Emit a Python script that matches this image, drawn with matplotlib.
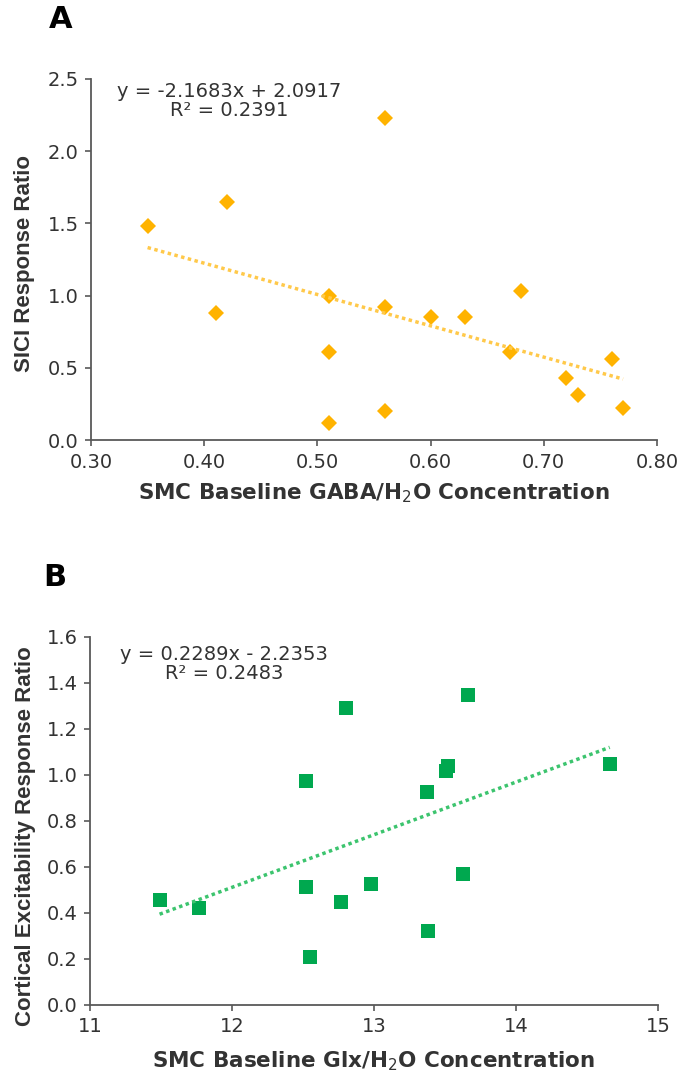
import matplotlib
matplotlib.use('Agg')
import matplotlib.pyplot as plt
import numpy as np

plt.rcParams['font.family'] = ['DejaVu Sans']

# Panel A: GABA vs SICI
gaba_x = [0.35, 0.41, 0.42, 0.51, 0.51, 0.51, 0.56, 0.56, 0.56, 0.60, 0.63, 0.67, 0.68, 0.72, 0.73, 0.76, 0.77]
sici_y = [1.48, 0.88, 1.65, 1.00, 0.61, 0.12, 2.23, 0.92, 0.20, 0.85, 0.85, 0.61, 1.03, 0.43, 0.31, 0.56, 0.22]
gaba_fit = (-2.1683, 2.0917)
gaba_r2 = 0.2391

# Panel B: Glx vs cortical excitability
glx_x = [11.49, 11.77, 12.52, 12.52, 12.55, 12.80, 12.77, 12.98, 13.37, 13.38, 13.52, 13.51, 13.63, 13.66, 14.66]
exc_y = [0.455, 0.42, 0.975, 0.515, 0.207, 1.29, 0.45, 0.526, 0.925, 0.32, 1.04, 1.016, 0.571, 1.35, 1.05]
glx_fit = (0.2289, -2.2353)
glx_r2 = 0.2483

W, H = 678, 1076
ORANGE = '#FFB300'
GREEN = '#00A84F'
AXIS_COL = '#595959'
TEXT_COL = '#333333'


def px(x, y):
    return x / W, 1 - y / H


def style_axes(ax):
    for s in ['top', 'right']:
        ax.spines[s].set_visible(False)
    for s in ['left', 'bottom']:
        ax.spines[s].set_color(AXIS_COL)
        ax.spines[s].set_linewidth(1.3)
    ax.tick_params(colors=AXIS_COL, labelcolor=TEXT_COL, labelsize=14, length=4, width=1.2, direction='out')
    ax.tick_params(axis='x', pad=5)
    ax.tick_params(axis='y', pad=5)


fig = plt.figure(figsize=(W / 100, H / 100), dpi=100)

# --- Panel A ---
axA = fig.add_axes([91 / W, 1 - 440 / H, 566 / W, 361 / H])
axA.plot(gaba_x, sici_y, linestyle='none', marker='D', markersize=8, color=ORANGE, markeredgewidth=0)
xa = np.array([min(gaba_x), max(gaba_x)])
axA.plot(xa, gaba_fit[0] * xa + gaba_fit[1], linestyle=(0, (1, 1)), linewidth=2.5, color='#FFC94A')
axA.set_xlim(0.30, 0.80)
axA.set_ylim(0.0, 2.5)
axA.set_xticks(np.arange(0.30, 0.81, 0.10))
axA.set_xticklabels([f'{v:.2f}' for v in np.arange(0.30, 0.81, 0.10)])
axA.set_yticks(np.arange(0.0, 2.51, 0.5))
axA.set_yticklabels([f'{v:.1f}' for v in np.arange(0.0, 2.51, 0.5)])
style_axes(axA)
axA.set_xlabel('SMC Baseline GABA/H$_2$O Concentration', fontsize=15.5, fontweight='bold', color=TEXT_COL)
axA.xaxis.label.set_va('center')
axA.xaxis.set_label_coords(0.5, -0.147)
axA.set_ylabel('SICI Response Ratio', fontsize=16, fontweight='bold', color=TEXT_COL,
               family=['Liberation Sans', 'DejaVu Sans'])
axA.yaxis.label.set_va('center')
axA.yaxis.set_label_coords(-0.118, 0.49)

fig.text(*px(229, 101), f'y = {gaba_fit[0]}x + {gaba_fit[1]}\nR² = {gaba_r2}',
         ha='center', va='center', fontsize=14, color=TEXT_COL, linespacing=0.95)
fig.text(*px(61, 20), 'A', fontsize=22, fontweight='bold', ha='center', va='center')

# --- Panel B ---
axB = fig.add_axes([90 / W, 1 - 1005 / H, 568 / W, 368 / H])
axB.plot(glx_x, exc_y, linestyle='none', marker='s', markersize=10.5, color=GREEN, markeredgewidth=0)
xb = np.array([min(glx_x), max(glx_x)])
axB.plot(xb, glx_fit[0] * xb + glx_fit[1], linestyle=(0, (1, 1)), linewidth=2.5, color='#3CC46E')
axB.set_xlim(11, 15)
axB.set_ylim(0.0, 1.6)
axB.set_xticks(range(11, 16))
axB.set_yticks(np.arange(0.0, 1.61, 0.2))
axB.set_yticklabels([f'{v:.1f}' for v in np.arange(0.0, 1.61, 0.2)])
style_axes(axB)
axB.set_xlabel('SMC Baseline Glx/H$_2$O Concentration', fontsize=15.5, fontweight='bold', color=TEXT_COL)
axB.xaxis.label.set_va('center')
axB.xaxis.set_label_coords(0.5, -0.152)
axB.set_ylabel('Cortical Excitability Response Ratio', fontsize=16, fontweight='bold', color=TEXT_COL,
               family=['Liberation Sans', 'DejaVu Sans'])
axB.yaxis.label.set_va('center')
axB.yaxis.set_label_coords(-0.114, 0.46)

fig.text(*px(224, 664), f'y = {glx_fit[0]}x - {abs(glx_fit[1])}\nR² = {glx_r2}',
         ha='center', va='center', fontsize=14, color=TEXT_COL, linespacing=0.95)
fig.text(*px(55, 577), 'B', fontsize=22, fontweight='bold', ha='center', va='center')

fig.savefig('out.png', dpi=100)
